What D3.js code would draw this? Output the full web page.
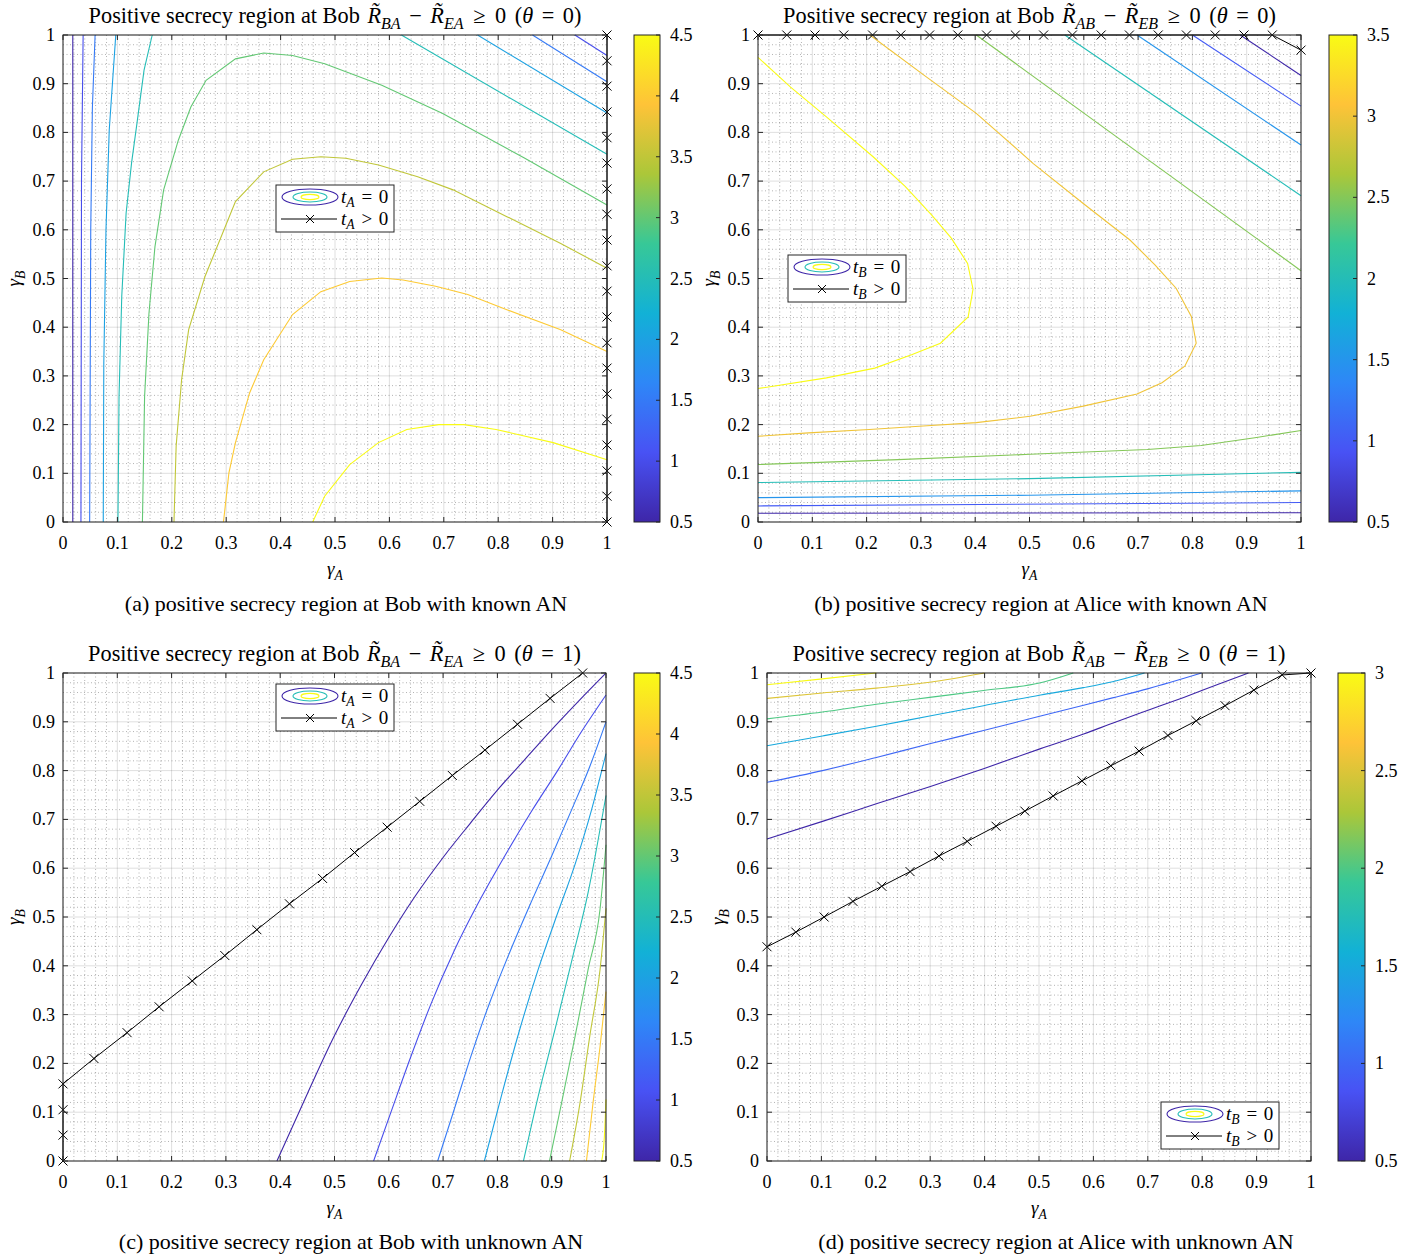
<!DOCTYPE html>
<html>
<head>
<meta charset="utf-8">
<script src="https://cdn.jsdelivr.net/npm/d3@7"></script>
<style>
  body { margin: 0; background: #fff; }
  text { font-family: "Liberation Serif", "Times New Roman", serif; fill: #000; }
</style>
</head>
<body>
<svg id="fig" width="1423" height="1259"></svg>
<script>
// ---- data ----
const axisTicks = [0, 0.1, 0.2, 0.3, 0.4, 0.5, 0.6, 0.7, 0.8, 0.9, 1];
const axisTickLabels = ['0', '0.1', '0.2', '0.3', '0.4', '0.5', '0.6', '0.7', '0.8', '0.9', '1'];

const cbTicksA = [0.5, 1, 1.5, 2, 2.5, 3, 3.5, 4, 4.5];
const cbTicksB = [0.5, 1, 1.5, 2, 2.5, 3, 3.5];
const cbTicksC = [0.5, 1, 1.5, 2, 2.5, 3, 3.5, 4, 4.5];
const cbTicksD = [0.5, 1, 1.5, 2, 2.5, 3];

// contour lines: level + polyline in (gammaA, gammaB)
const contoursA = [
  { level: 0.5, pts: [[0.018, 0], [0.018, 1]] },
  { level: 1.0, pts: [[0.033, 0], [0.034, 0.7], [0.037, 1]] },
  { level: 1.0, pts: [[0.941, 1], [1, 0.958]] },
  { level: 1.5, pts: [[0.049, 0], [0.051, 0.6], [0.054, 0.85], [0.059, 1]] },
  { level: 1.5, pts: [[0.863, 1], [1, 0.904]] },
  { level: 2.0, pts: [[0.074, 0], [0.075, 0.326], [0.079, 0.6], [0.085, 0.805], [0.097, 1]] },
  { level: 2.0, pts: [[0.762, 1], [1, 0.840]] },
  { level: 2.5, pts: [[0.101, 0], [0.103, 0.258], [0.108, 0.463], [0.116, 0.634], [0.126, 0.737], [0.136, 0.819], [0.149, 0.928], [0.164, 1]] },
  { level: 2.5, pts: [[0.622, 1], [1, 0.755]] },
  { level: 3.0, pts: [[0.146, 0], [0.150, 0.258], [0.158, 0.428], [0.169, 0.565], [0.185, 0.682], [0.212, 0.784], [0.235, 0.852], [0.263, 0.907], [0.317, 0.951], [0.369, 0.963], [0.422, 0.958], [0.481, 0.941], [0.586, 0.897], [0.698, 0.839], [0.849, 0.747], [1, 0.651]] },
  { level: 3.5, pts: [[0.204, 0], [0.208, 0.156], [0.218, 0.292], [0.231, 0.395], [0.261, 0.504], [0.317, 0.658], [0.369, 0.719], [0.422, 0.745], [0.474, 0.750], [0.520, 0.747], [0.580, 0.733], [0.652, 0.709], [0.717, 0.682], [0.816, 0.627], [0.915, 0.572], [1, 0.521]] },
  { level: 4.0, pts: [[0.295, 0], [0.305, 0.101], [0.317, 0.163], [0.343, 0.265], [0.369, 0.333], [0.422, 0.426], [0.474, 0.473], [0.527, 0.494], [0.586, 0.501], [0.625, 0.497], [0.685, 0.484], [0.744, 0.467], [0.816, 0.436], [0.915, 0.395], [1, 0.350]] },
  { level: 4.5, pts: [[0.459, 0], [0.481, 0.053], [0.527, 0.118], [0.580, 0.163], [0.632, 0.190], [0.691, 0.200], [0.737, 0.200], [0.796, 0.190], [0.901, 0.163], [1, 0.128]] }
];

const contoursB = [
  { level: 0.5, pts: [[0, 0.018], [1, 0.019]] },
  { level: 0.5, pts: [[0.888, 1], [1, 0.917]] },
  { level: 1.0, pts: [[0, 0.033], [1, 0.040]] },
  { level: 1.0, pts: [[0.800, 1], [1, 0.854]] },
  { level: 1.5, pts: [[0, 0.050], [0.5, 0.055], [1, 0.064]] },
  { level: 1.5, pts: [[0.698, 1], [1, 0.774]] },
  { level: 2.0, pts: [[0, 0.081], [0.5, 0.089], [0.85, 0.098], [1, 0.102]] },
  { level: 2.0, pts: [[0.565, 1], [1, 0.670]] },
  { level: 2.5, pts: [[0, 0.118], [0.258, 0.128], [0.501, 0.139], [0.717, 0.149], [0.816, 0.157], [0.915, 0.173], [1, 0.188]] },
  { level: 2.5, pts: [[0.402, 1], [1, 0.516]] },
  { level: 3.0, pts: [[0.206, 1], [0.310, 0.914], [0.402, 0.839], [0.507, 0.736], [0.599, 0.654], [0.685, 0.579], [0.731, 0.528], [0.770, 0.480], [0.798, 0.422], [0.807, 0.367], [0.786, 0.320], [0.744, 0.286], [0.698, 0.263], [0.599, 0.238], [0.501, 0.217], [0.402, 0.204], [0.304, 0.197], [0.205, 0.190], [0.093, 0.183], [0, 0.176]] },
  { level: 3.5, pts: [[0, 0.954], [0.060, 0.893], [0.126, 0.832], [0.212, 0.750], [0.271, 0.689], [0.320, 0.630], [0.356, 0.583], [0.386, 0.531], [0.396, 0.478], [0.387, 0.421], [0.336, 0.367], [0.284, 0.344], [0.215, 0.316], [0.126, 0.296], [0, 0.274]] }
];

const contoursC = [
  { level: 0.5, pts: [[0.394, 0], [0.45, 0.138], [0.5, 0.257], [0.55, 0.362], [0.6, 0.458], [0.65, 0.545], [0.7, 0.622], [0.75, 0.692], [0.8, 0.760], [0.85, 0.822], [0.9, 0.884], [0.95, 0.943], [1, 1]] },
  { level: 1.0, pts: [[0.572, 0], [0.603, 0.097], [0.640, 0.212], [0.677, 0.320], [0.720, 0.430], [0.764, 0.527], [0.813, 0.624], [0.862, 0.715], [0.912, 0.802], [0.955, 0.880], [1, 0.955]] },
  { level: 1.5, pts: [[0.690, 0], [0.720, 0.104], [0.751, 0.214], [0.788, 0.331], [0.825, 0.434], [0.862, 0.530], [0.900, 0.625], [0.936, 0.718], [0.970, 0.808], [1, 0.900]] },
  { level: 2.0, pts: [[0.776, 0], [0.807, 0.132], [0.841, 0.269], [0.875, 0.392], [0.909, 0.502], [0.943, 0.608], [0.973, 0.718], [1, 0.835]] },
  { level: 2.5, pts: [[0.848, 0], [0.875, 0.132], [0.906, 0.269], [0.936, 0.406], [0.967, 0.550], [1, 0.749]] },
  { level: 3.0, pts: [[0.896, 0], [0.918, 0.118], [0.943, 0.255], [0.967, 0.392], [0.989, 0.516], [1, 0.648]] },
  { level: 3.5, pts: [[0.933, 0], [0.952, 0.118], [0.970, 0.255], [0.989, 0.392], [1, 0.518]] },
  { level: 4.0, pts: [[0.964, 0], [0.976, 0.118], [0.989, 0.234], [1, 0.347]] },
  { level: 4.5, pts: [[0.992, 0], [0.997, 0.049], [1, 0.126]] }
];

const contoursD = [
  { level: 0.5, pts: [[0, 0.660], [0.102, 0.696], [0.201, 0.732], [0.299, 0.767], [0.398, 0.804], [0.503, 0.845], [0.582, 0.875], [0.635, 0.897], [0.694, 0.921], [0.766, 0.950], [0.832, 0.978], [0.885, 1]] },
  { level: 1.0, pts: [[0, 0.776], [0.102, 0.800], [0.201, 0.827], [0.299, 0.855], [0.398, 0.882], [0.503, 0.912], [0.582, 0.934], [0.635, 0.949], [0.701, 0.968], [0.799, 1]] },
  { level: 1.5, pts: [[0, 0.851], [0.102, 0.871], [0.201, 0.891], [0.299, 0.912], [0.398, 0.933], [0.503, 0.955], [0.582, 0.970], [0.635, 0.982], [0.694, 1]] },
  { level: 2.0, pts: [[0, 0.906], [0.102, 0.920], [0.201, 0.936], [0.299, 0.950], [0.398, 0.964], [0.503, 0.980], [0.563, 1]] },
  { level: 2.5, pts: [[0, 0.948], [0.102, 0.959], [0.201, 0.969], [0.299, 0.981], [0.400, 1]] },
  { level: 3.0, pts: [[0, 0.976], [0.102, 0.988], [0.201, 1]] }
];

// t > 0 boundary with x markers
const markA_x = [1, 1, 1, 1, 1, 1, 1, 1, 1, 1, 1, 1, 1, 1, 1, 1, 1, 1, 1, 1];
const markA_y = [0, 0.053, 0.105, 0.158, 0.211, 0.263, 0.316, 0.368, 0.421, 0.474, 0.526, 0.579, 0.632, 0.684, 0.737, 0.789, 0.842, 0.895, 0.947, 1];
const markB_x = [0, 0.053, 0.105, 0.158, 0.211, 0.263, 0.316, 0.368, 0.421, 0.474, 0.526, 0.579, 0.632, 0.684, 0.737, 0.789, 0.842, 0.895, 0.947, 1];
const markB_y = [1, 1, 1, 1, 1, 1, 1, 1, 1, 1, 1, 1, 1, 1, 1, 1, 1, 1, 1, 0.969];
const markC_x = [0, 0, 0, 0, 0.057, 0.118, 0.177, 0.238, 0.298, 0.357, 0.417, 0.478, 0.537, 0.597, 0.657, 0.717, 0.777, 0.837, 0.897, 0.957];
const markC_y = [0, 0.053, 0.105, 0.158, 0.210, 0.263, 0.316, 0.369, 0.421, 0.474, 0.527, 0.579, 0.632, 0.684, 0.737, 0.790, 0.842, 0.895, 0.948, 1];
const markD_x = [0, 0.053, 0.105, 0.158, 0.211, 0.263, 0.316, 0.368, 0.421, 0.474, 0.526, 0.579, 0.632, 0.684, 0.737, 0.789, 0.842, 0.895, 0.947, 1];
const markD_y = [0.439, 0.469, 0.5, 0.532, 0.563, 0.593, 0.625, 0.655, 0.686, 0.717, 0.748, 0.779, 0.810, 0.840, 0.872, 0.902, 0.933, 0.965, 0.996, 1];

// ---- colormap (parula) ----
const parulaStops = ['#3e26a8', '#4852f4', '#2e87f7', '#12b1d6', '#37c897', '#abc739', '#fec338', '#f9fb15'];
const parula = d3.scaleLinear()
  .domain(parulaStops.map((c, i) => i / (parulaStops.length - 1)))
  .range(parulaStops)
  .interpolate(d3.interpolateRgb);

const AXC = '#262626';
const svg = d3.select('#fig');
const defs = svg.append('defs');

// simple math-ish text: parts {s, i (italic), sub, dx}
function mathText(g, x, y, parts, size, anchor, subShift) {
  const t = g.append('text')
    .attr('x', x).attr('y', y)
    .attr('font-size', size)
    .attr('text-anchor', anchor || 'start');
  let shift = 0;
  const ss = subShift == null ? 0.3 : subShift;
  parts.forEach(p => {
    const ts = t.append('tspan').text(p.s);
    if (p.i) ts.attr('font-style', 'italic');
    const target = p.sub ? size * ss : 0;
    if (target !== shift) { ts.attr('dy', target - shift); shift = target; }
    if (p.dx) ts.attr('dx', p.dx);
    if (p.sub) ts.attr('font-size', size * 0.72);
  });
  return t;
}

function titleParts(r1, r2, theta) {
  return [
    { s: 'Positive secrecy region at Bob ' },
    { s: 'R\u0303', i: true, dx: 2 }, { s: r1, i: true, sub: true },
    { s: ' \u2212', dx: 3 }, { s: ' ', dx: 3 },
    { s: 'R\u0303', i: true }, { s: r2, i: true, sub: true },
    { s: ' \u2265', dx: 4 }, { s: ' 0', dx: 4 }, { s: ' (', dx: 3 }, { s: '\u03b8', i: true },
    { s: ' =', dx: 3 }, { s: ' ' + theta, dx: 3 }, { s: ')' }
  ];
}

const panels = [
  { id: 'a', x0: 63, x1: 607, y0: 35, y1: 522, cbX: 634, cbW: 26, cTicks: cbTicksA,
    contours: contoursA, mx: markA_x, my: markA_y, who: 'A', smooth: false,
    title: titleParts('BA', 'EA', 0), yLabX: 15,
    legX: 276, legY: 185, capX: 346, capY: 611,
    caption: '(a) positive secrecy region at Bob with known AN' },
  { id: 'b', x0: 758, x1: 1301, y0: 35, y1: 522, cbX: 1329, cbW: 28, cTicks: cbTicksB,
    contours: contoursB, mx: markB_x, my: markB_y, who: 'B', smooth: false,
    title: titleParts('AB', 'EB', 0), yLabX: 710,
    legX: 788, legY: 255, capX: 1041, capY: 611,
    caption: '(b) positive secrecy region at Alice with known AN' },
  { id: 'c', x0: 63, x1: 606, y0: 673, y1: 1161, cbX: 634, cbW: 26, cTicks: cbTicksC,
    contours: contoursC, mx: markC_x, my: markC_y, who: 'A', smooth: true,
    title: titleParts('BA', 'EA', 1), yLabX: 15,
    legX: 276, legY: 684, capX: 351, capY: 1249,
    caption: '(c) positive secrecy region at Bob with unknown AN' },
  { id: 'd', x0: 767, x1: 1311, y0: 673, y1: 1161, cbX: 1338, cbW: 27, cTicks: cbTicksD,
    contours: contoursD, mx: markD_x, my: markD_y, who: 'B', smooth: true,
    title: titleParts('AB', 'EB', 1), yLabX: 719,
    legX: 1161, legY: 1102, capX: 1056, capY: 1249,
    caption: '(d) positive secrecy region at Alice with unknown AN' }
];

const minorTicks = d3.range(1, 50).map(i => i / 50).filter((v, i) => (i + 1) % 5 !== 0);

function xMarker(g, cx, cy, r) {
  g.append('path')
    .attr('d', `M${cx - r},${cy - r}L${cx + r},${cy + r}M${cx - r},${cy + r}L${cx + r},${cy - r}`)
    .attr('stroke', '#000').attr('stroke-width', 1).attr('fill', 'none');
}

panels.forEach(p => {
  const g = svg.append('g').attr('class', 'panel-' + p.id);
  const x = d3.scaleLinear().domain([0, 1]).range([p.x0, p.x1]);
  const y = d3.scaleLinear().domain([0, 1]).range([p.y1, p.y0]);
  const cmin = d3.min(p.cTicks), cmax = d3.max(p.cTicks);
  const color = v => parula((v - cmin) / (cmax - cmin));

  // background + grids
  g.append('rect').attr('x', p.x0).attr('y', p.y0)
    .attr('width', p.x1 - p.x0).attr('height', p.y1 - p.y0).attr('fill', '#fff');

  const grid = g.append('g');
  minorTicks.forEach(v => {
    grid.append('line').attr('x1', x(v)).attr('x2', x(v)).attr('y1', p.y0).attr('y2', p.y1)
      .attr('stroke', AXC).attr('stroke-opacity', 0.35).attr('stroke-dasharray', '1,2.5');
    grid.append('line').attr('y1', y(v)).attr('y2', y(v)).attr('x1', p.x0).attr('x2', p.x1)
      .attr('stroke', AXC).attr('stroke-opacity', 0.35).attr('stroke-dasharray', '1,2.5');
  });
  axisTicks.forEach(v => {
    grid.append('line').attr('x1', x(v)).attr('x2', x(v)).attr('y1', p.y0).attr('y2', p.y1)
      .attr('stroke', AXC).attr('stroke-opacity', 0.15);
    grid.append('line').attr('y1', y(v)).attr('y2', y(v)).attr('x1', p.x0).attr('x2', p.x1)
      .attr('stroke', AXC).attr('stroke-opacity', 0.15);
  });

  // contour lines
  const line = d3.line().x(d => x(d[0])).y(d => y(d[1]));
  const cline = d3.line().x(d => x(d[0])).y(d => y(d[1]))
    .curve(p.smooth ? d3.curveMonotoneX : d3.curveLinear);
  g.append('g').selectAll('path').data(p.contours).join('path')
    .attr('d', d => cline(d.pts))
    .attr('fill', 'none')
    .attr('stroke', d => color(d.level))
    .attr('stroke-width', 1.1);

  // t > 0 boundary
  const bpts = p.mx.map((v, i) => [v, p.my[i]]);
  g.append('path').attr('d', line(bpts)).attr('fill', 'none')
    .attr('stroke', '#000').attr('stroke-width', 1);
  bpts.forEach(d => xMarker(g, x(d[0]), y(d[1]), 4.5));

  // axes (box + inward ticks)
  const ax = g.append('g');
  ax.append('rect').attr('x', p.x0).attr('y', p.y0)
    .attr('width', p.x1 - p.x0).attr('height', p.y1 - p.y0)
    .attr('fill', 'none').attr('stroke', AXC).attr('stroke-width', 1);
  axisTicks.forEach((v, i) => {
    const tl = 5;
    ax.append('line').attr('x1', x(v)).attr('x2', x(v)).attr('y1', p.y1).attr('y2', p.y1 - tl).attr('stroke', AXC);
    ax.append('line').attr('x1', x(v)).attr('x2', x(v)).attr('y1', p.y0).attr('y2', p.y0 + tl).attr('stroke', AXC);
    ax.append('line').attr('y1', y(v)).attr('y2', y(v)).attr('x1', p.x0).attr('x2', p.x0 + tl).attr('stroke', AXC);
    ax.append('line').attr('y1', y(v)).attr('y2', y(v)).attr('x1', p.x1).attr('x2', p.x1 - tl).attr('stroke', AXC);
    ax.append('text').attr('x', x(v)).attr('y', p.y1 + 27).attr('text-anchor', 'middle')
      .attr('font-size', 18).attr('fill', AXC).text(axisTickLabels[i]);
    ax.append('text').attr('x', p.x0 - 8).attr('y', y(v) + 6).attr('text-anchor', 'end')
      .attr('font-size', 18).attr('fill', AXC).text(axisTickLabels[i]);
  });

  // axis labels
  mathText(g, (p.x0 + p.x1) / 2, p.y1 + 53, [{ s: '\u03b3', i: true }, { s: 'A', i: true, sub: true }], 19, 'middle', 0.25);
  const yl = g.append('g').attr('transform', `translate(${p.yLabX + 5},${(p.y0 + p.y1) / 2}) rotate(-90)`);
  mathText(yl, 0, 0, [{ s: '\u03b3', i: true }, { s: 'B', i: true, sub: true }], 19, 'middle', 0.25);

  // title
  mathText(g, (p.x0 + p.x1) / 2, p.y0 - 12, p.title, 22.3, 'middle', 0.28);

  // colorbar
  const gid = 'grad-' + p.id;
  const grad = defs.append('linearGradient').attr('id', gid)
    .attr('x1', 0).attr('y1', 1).attr('x2', 0).attr('y2', 0);
  parulaStops.forEach((c, i) => grad.append('stop')
    .attr('offset', i / (parulaStops.length - 1)).attr('stop-color', c));
  const cy = d3.scaleLinear().domain([cmin, cmax]).range([p.y1, p.y0]);
  g.append('rect').attr('x', p.cbX).attr('y', p.y0).attr('width', p.cbW).attr('height', p.y1 - p.y0)
    .attr('fill', `url(#${gid})`).attr('stroke', AXC).attr('stroke-width', 1);
  p.cTicks.forEach(v => {
    g.append('line').attr('x1', p.cbX + p.cbW).attr('x2', p.cbX + p.cbW - 4)
      .attr('y1', cy(v)).attr('y2', cy(v)).attr('stroke', AXC);
    g.append('text').attr('x', p.cbX + p.cbW + 10).attr('y', cy(v) + 6)
      .attr('font-size', 18).attr('fill', AXC).text(String(v));
  });

  // legend
  const lg = g.append('g').attr('transform', `translate(${p.legX},${p.legY})`);
  lg.append('rect').attr('width', 118).attr('height', 47).attr('fill', '#fff')
    .attr('stroke', AXC).attr('stroke-width', 1);
  const ecx = 34, ecy = 12;
  [[28, 8, color(cmin)], [17, 5, color((cmin + cmax) / 2)], [9, 2.6, color(cmax)]].forEach(e => {
    lg.append('ellipse').attr('cx', ecx).attr('cy', ecy).attr('rx', e[0]).attr('ry', e[1])
      .attr('fill', 'none').attr('stroke', e[2]).attr('stroke-width', 1.1);
  });
  lg.append('line').attr('x1', 5).attr('x2', 61).attr('y1', 34).attr('y2', 34).attr('stroke', '#000');
  xMarker(lg, 34, 34, 4);
  const legParts = op => [{ s: 't', i: true }, { s: p.who, i: true, sub: true },
    { s: ' ' + op, dx: 2 }, { s: ' 0', dx: 2 }];
  mathText(lg, 65, 18, legParts('='), 19, 'start', 0.2);
  mathText(lg, 65, 40, legParts('>'), 19, 'start', 0.2);

  // caption
  g.append('text').attr('x', p.capX).attr('y', p.capY).attr('text-anchor', 'middle')
    .attr('font-size', 22).text(p.caption);
});
</script>
</body>
</html>
